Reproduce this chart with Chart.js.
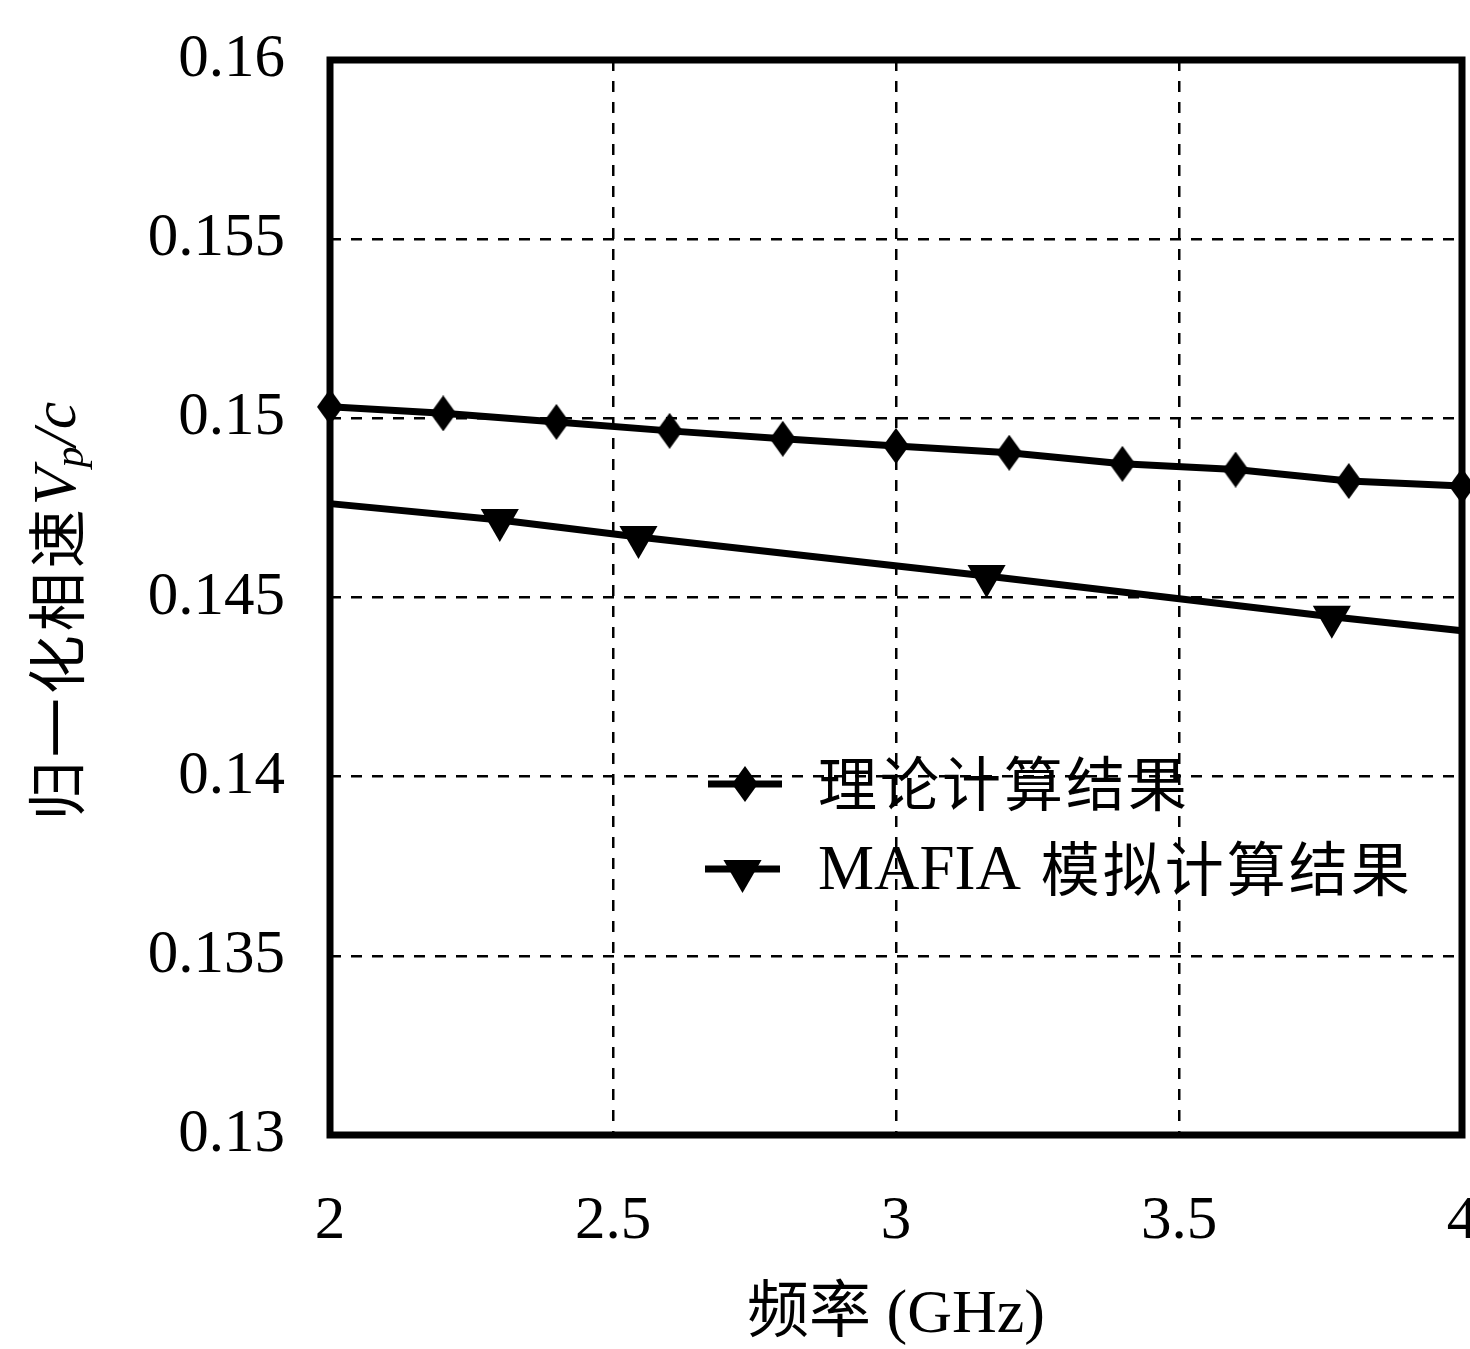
<!DOCTYPE html>
<html>
<head>
<meta charset="utf-8">
<script src="https://cdn.jsdelivr.net/npm/chart.js@4.4.0/dist/chart.umd.min.js"></script>
<style>
  html, body { margin: 0; padding: 0; background: #fff; }
  canvas { display: block; }
</style>
</head>
<body>
<canvas id="c" width="1470" height="1349"></canvas>
<script>
// Normalized phase velocity vs frequency
const freqTheory = [2.0, 2.2, 2.4, 2.6, 2.8, 3.0, 3.2, 3.4, 3.6, 3.8, 4.0];
const vpTheory   = [0.15032, 0.15014, 0.14990, 0.14965, 0.14943, 0.14923, 0.14904, 0.14873, 0.14857, 0.14825, 0.14811];

const freqMafia  = [2.0, 2.30, 2.545, 3.16, 3.77, 4.0];
const vpMafia    = [0.14762, 0.14716, 0.14669, 0.14560, 0.14446, 0.14407];
const mafiaMarked = [false, true, true, true, true, false];

const xTickValues = [2, 2.5, 3, 3.5, 4];
const xTickLabels = ['2', '2.5', '3', '3.5', '4'];
const yTickValues = [0.13, 0.135, 0.14, 0.145, 0.15, 0.155, 0.16];
const yTickLabels = ['0.13', '0.135', '0.14', '0.145', '0.15', '0.155', '0.16'];

const seriesNames = ['理论计算结果', 'MAFIA 模拟计算结果'];
const xTitle = '频率 (GHz)';

const SERIF = "'Liberation Serif', 'Noto Sans CJK SC', serif";
const CJK = "'Noto Sans CJK SC', sans-serif";

// tall narrow diamond marker
function diamondMarker(w, h) {
  const c = document.createElement('canvas');
  c.width = w; c.height = h;
  const g = c.getContext('2d');
  g.fillStyle = '#000';
  g.beginPath();
  g.moveTo(w / 2, 0);
  g.lineTo(w, h / 2);
  g.lineTo(w / 2, h);
  g.lineTo(0, h / 2);
  g.closePath();
  g.fill();
  return c;
}
const diamond = diamondMarker(26, 36);

// heavy frame around the plotting area
const framePlugin = {
  id: 'frame',
  beforeDatasetsDraw(chart) {
    const { ctx, chartArea: a } = chart;
    ctx.save();
    ctx.strokeStyle = '#000';
    ctx.lineWidth = 7;
    ctx.strokeRect(a.left, a.top, a.right - a.left, a.bottom - a.top);
    ctx.restore();
  }
};

// legend drawn inside the plot: line sample + marker + label
const insideLegend = {
  id: 'insideLegend',
  afterDraw(chart, args, opts) {
    const { ctx } = chart;
    ctx.save();
    opts.items.forEach((it, i) => {
      const ds = chart.data.datasets[i];
      ctx.strokeStyle = '#000';
      ctx.lineWidth = ds.borderWidth;
      ctx.beginPath();
      ctx.moveTo(it.x0, it.y);
      ctx.lineTo(it.x1, it.y);
      ctx.stroke();
      ctx.fillStyle = '#000';
      Chart.helpers.drawPoint(ctx, {
        pointStyle: ds.pointStyle,
        rotation: ds.pointRotation || 0,
        radius: it.r,
        borderWidth: 0
      }, (it.x0 + it.x1) / 2, it.y + (it.dy || 0));
      // label: Latin part in serif, CJK part in CJK font
      ctx.textBaseline = 'middle';
      ctx.textAlign = 'left';
      let x = opts.textX;
      const m = ds.label.match(/^([A-Za-z ]*)(.*)$/);
      if (m[1]) {
        ctx.font = opts.latinFont;
        ctx.letterSpacing = '0px';
        ctx.fillText(m[1], x, it.y + 3);
        x += ctx.measureText(m[1]).width + 4;
      }
      ctx.font = opts.cjkFont;
      ctx.letterSpacing = opts.cjkSpacing;
      ctx.fillText(m[2], x, it.y);
    });
    ctx.restore();
  }
};

// rotated y-axis title with subscript
const yTitlePlugin = {
  id: 'yTitle',
  afterDraw(chart, args, opts) {
    const { ctx } = chart;
    const parts = [
      { t: '归一化相速', f: '59px ' + CJK, dy: 0, ls: '4px' },
      { t: 'V', f: 'italic 62px ' + SERIF, dy: 2, ls: '0px' },
      { t: 'p', f: 'italic 42px ' + SERIF, dy: 15, ls: '0px' },
      { t: '/', f: 'italic 62px ' + SERIF, dy: 2, ls: '0px' },
      { t: 'c', f: 'italic 62px ' + SERIF, dy: 2, ls: '0px' }
    ];
    ctx.save();
    let total = 0;
    parts.forEach(p => {
      ctx.font = p.f; ctx.letterSpacing = p.ls;
      p.w = ctx.measureText(p.t).width; total += p.w;
    });
    ctx.translate(opts.x, opts.cy);
    ctx.rotate(-Math.PI / 2);
    ctx.fillStyle = '#000';
    ctx.textBaseline = 'middle';
    ctx.textAlign = 'left';
    let x = -total / 2;
    parts.forEach(p => {
      ctx.font = p.f; ctx.letterSpacing = p.ls;
      ctx.fillText(p.t, x, p.dy); x += p.w;
    });
    ctx.restore();
  }
};

const chart = new Chart(document.getElementById('c'), {
  type: 'line',
  data: {
    datasets: [
      {
        label: seriesNames[0],
        data: freqTheory.map((f, i) => ({ x: f, y: vpTheory[i] })),
        borderColor: '#000',
        backgroundColor: '#000',
        borderWidth: 7,
        pointStyle: diamond,
        pointRadius: 13,
        pointBackgroundColor: '#000',
        pointBorderWidth: 0,
        tension: 0,
        clip: false
      },
      {
        label: seriesNames[1],
        data: freqMafia.map((f, i) => ({ x: f, y: vpMafia[i] })),
        borderColor: '#000',
        backgroundColor: '#000',
        borderWidth: 7,
        pointStyle: 'triangle',
        pointRotation: 180,
        pointRadius: mafiaMarked.map(m => (m ? 22 : 0)),
        pointBackgroundColor: '#000',
        pointBorderWidth: 0,
        tension: 0,
        clip: false
      }
    ]
  },
  options: {
    responsive: false,
    animation: false,
    devicePixelRatio: 1,
    layout: { autoPadding: false, padding: { left: 0, right: 8, top: 60, bottom: 0 } },
    plugins: {
      legend: { display: false },
      tooltip: { enabled: false },
      insideLegend: {
        textX: 818,
        latinFont: '63px ' + SERIF,
        cjkFont: '59px ' + CJK,
        cjkSpacing: '3px',
        items: [
          { x0: 708, x1: 782, y: 784, r: 0 },
          { x0: 705, x1: 780, y: 869, r: 22, dy: 2 }
        ]
      },
      yTitle: { x: 57, cy: 611 }
    },
    scales: {
      x: {
        type: 'linear',
        min: 2, max: 4,
        afterBuildTicks(scale) { scale.ticks = xTickValues.map(v => ({ value: v })); },
        afterFit(scale) { scale.height = 214; scale.paddingLeft = 0; scale.paddingRight = 0; },
        ticks: {
          color: '#000',
          padding: 50,
          maxRotation: 0,
          autoSkip: false,
          font: { family: SERIF, size: 61 },
          callback: (v) => xTickLabels[xTickValues.indexOf(v)]
        },
        grid: { color: '#000', lineWidth: 2.5, drawTicks: false },
        border: { display: false, dash: [11, 10] },
        title: {
          display: true,
          text: xTitle,
          color: '#000',
          font: { family: SERIF, size: 62, lineHeight: 1 },
          padding: { top: 0, bottom: 2 }
        }
      },
      y: {
        type: 'linear',
        min: 0.13, max: 0.16,
        afterBuildTicks(scale) { scale.ticks = yTickValues.map(v => ({ value: v })); },
        afterFit(scale) { scale.width = 330; scale.paddingTop = 0; scale.paddingBottom = 0; },
        ticks: {
          color: '#000',
          padding: 45,
          autoSkip: false,
          font: { family: SERIF, size: 61 },
          callback: (v) => yTickLabels[yTickValues.indexOf(v)]
        },
        grid: { color: '#000', lineWidth: 2.5, drawTicks: false },
        border: { display: false, dash: [11, 10] }
      }
    }
  },
  plugins: [framePlugin, insideLegend, yTitlePlugin]
});
</script>
</body>
</html>
